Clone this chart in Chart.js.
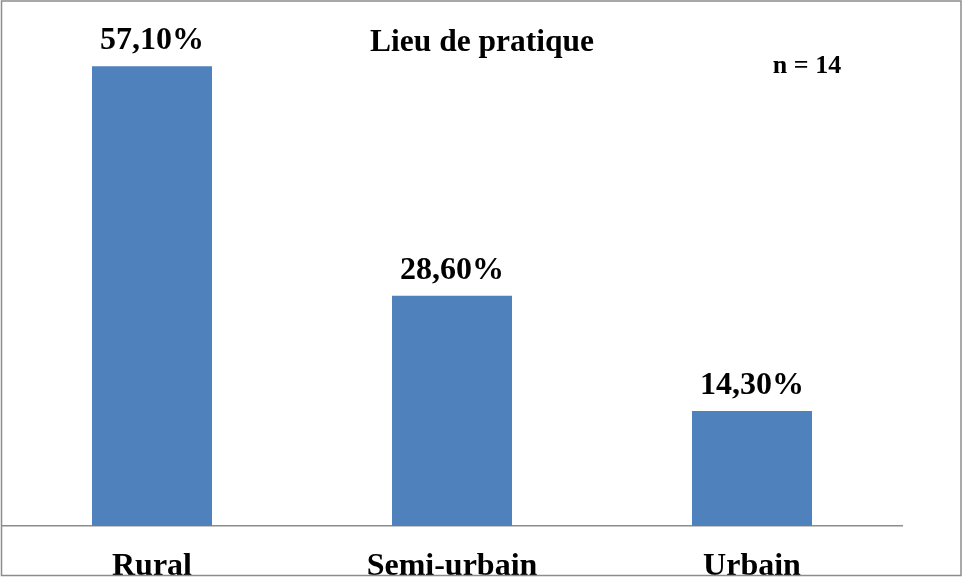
<!DOCTYPE html>
<html lang="fr">
<head>
<meta charset="utf-8">
<title>Lieu de pratique</title>
<script src="https://cdn.jsdelivr.net/npm/chart.js@4/dist/chart.umd.min.js"></script>
<style>
  html, body { margin: 0; padding: 0; background: #fff; }
  #wrap { width: 963px; height: 577px; position: relative; }
</style>
</head>
<body>
<div id="wrap"><canvas id="lieu-chart"></canvas></div>
<script>
// Répartition selon le lieu de pratique
const categories = ['Rural', 'Semi-urbain', 'Urbain'];
const percentages = [57.1, 28.6, 14.3];
const chartTitle = 'Lieu de pratique';
const sampleNote = 'n = 14';

const serif = "'Liberation Serif', 'Times New Roman', serif";
const barColor = '#4F81BD';
const lineColor = '#8c8c8c';

function formatPct(v) {
  return v.toFixed(2).replace('.', ',') + '%';
}

// Frame, title, n and value labels drawn on top of the bars
const decorations = {
  id: 'decorations',
  afterDatasetsDraw(chart) {
    const ctx = chart.ctx;
    ctx.save();

    ctx.fillStyle = '#000';
    ctx.textAlign = 'center';
    ctx.textBaseline = 'alphabetic';

    ctx.font = 'bold 32px ' + serif;
    chart.getDatasetMeta(0).data.forEach((bar, i) => {
      ctx.fillText(formatPct(percentages[i]), bar.x, bar.y - 17);
    });

    ctx.font = 'bold 31.5px ' + serif;
    ctx.fillText(chartTitle, 482, 51);

    ctx.font = 'bold 26px ' + serif;
    ctx.fillText(sampleNote, 807, 73);

    ctx.strokeStyle = lineColor;
    ctx.lineWidth = 1.5;
    ctx.strokeRect(1.5, 1, 959.5, 574.5);
    ctx.restore();
  }
};

new Chart(document.getElementById('lieu-chart'), {
  type: 'bar',
  data: {
    labels: categories,
    datasets: [{
      data: percentages,
      backgroundColor: barColor,
      borderWidth: 0,
      barPercentage: 0.4,
      categoryPercentage: 1.0
    }]
  },
  options: {
    responsive: true,
    maintainAspectRatio: false,
    animation: false,
    layout: {
      padding: { top: 43, left: 2, right: 61, bottom: 0 }
    },
    plugins: {
      legend: { display: false },
      tooltip: { enabled: false },
      title: { display: false }
    },
    scales: {
      x: {
        grid: { display: false, drawTicks: false },
        border: { display: true, color: lineColor, width: 1.5 },
        ticks: {
          color: '#000',
          font: { family: serif, size: 32, weight: 'bold' },
          padding: 22,
          maxRotation: 0
        },
        afterFit(scale) {
          scale.height = 51;
        }
      },
      y: {
        display: false,
        min: 0,
        max: 60
      }
    }
  },
  plugins: [decorations]
});
</script>
</body>
</html>
